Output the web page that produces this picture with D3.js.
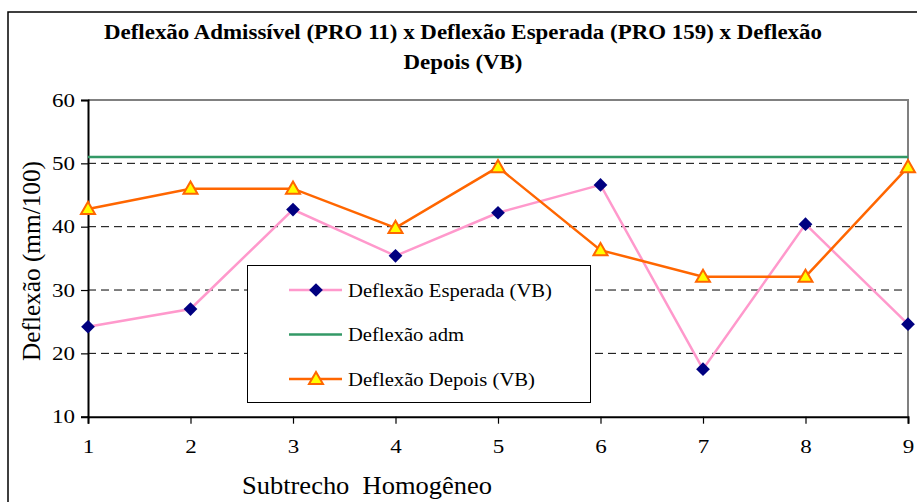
<!DOCTYPE html>
<html>
<head>
<meta charset="utf-8">
<script src="https://cdn.jsdelivr.net/npm/d3@7"></script>
<style>
  html, body { margin: 0; padding: 0; background: #fff; }
  svg { display: block; }
</style>
</head>
<body>
<svg id="chart" width="917" height="502"></svg>
<script>
// Subtrechos homogêneos (eixo X)
const subtrechos = [1, 2, 3, 4, 5, 6, 7, 8, 9];
// Deflexão esperada (VB), mm/100
const deflexaoEsperada = [24.2, 27.0, 42.7, 35.4, 42.2, 46.6, 17.5, 40.4, 24.6];
// Deflexão admissível, mm/100
const deflexaoAdm = [51, 51, 51, 51, 51, 51, 51, 51, 51];
// Deflexão depois (VB), mm/100
const deflexaoDepois = [42.8, 46.0, 46.0, 39.8, 49.4, 36.3, 32.1, 32.1, 49.4];
// Marcas do eixo Y
const yTicks = [10, 20, 30, 40, 50, 60];

const FONT = "Liberation Serif";
const svg = d3.select("#chart");

// Moldura externa do gráfico
svg.append("rect")
  .attr("x", 8).attr("y", 12)
  .attr("width", 930).attr("height", 520)
  .attr("fill", "#fff").attr("stroke", "#000").attr("stroke-width", 1.5);

// Título (duas linhas)
const titleLines = [
  { text: "Deflexão Admissível (PRO 11) x Deflexão Esperada (PRO 159) x Deflexão", y: 38.5, w: 718 },
  { text: "Depois (VB)", y: 68.5, w: 119 }
];
svg.append("g").selectAll("text")
  .data(titleLines)
  .join("text")
  .attr("x", 463).attr("y", d => d.y).attr("text-anchor", "middle")
  .style("font-family", FONT).style("font-weight", "bold").style("font-size", "20.5px")
  .attr("textLength", d => d.w).attr("lengthAdjust", "spacingAndGlyphs")
  .text(d => d.text);

const x = d3.scaleLinear().domain([1, 9]).range([88, 908]);
const y = d3.scaleLinear().domain([10, 60]).range([416.7, 100]);

// Grade tracejada
svg.append("g")
  .selectAll("line")
  .data(yTicks.filter(v => v > 10 && v < 60))
  .join("line")
  .attr("x1", x(1)).attr("x2", x(9))
  .attr("y1", d => y(d)).attr("y2", d => y(d))
  .attr("stroke", "#000").attr("stroke-width", 1)
  .attr("stroke-dasharray", "8,5");

// Borda superior e direita da área de plotagem
svg.append("path")
  .attr("d", `M${x(1)},${y(60)}H${x(9)}V${y(10)}`)
  .attr("fill", "none").attr("stroke", "#808080").attr("stroke-width", 2);

// Eixo Y
const yAxis = d3.axisLeft(y).tickValues(yTicks).tickSize(7).tickPadding(6);
const gy = svg.append("g").attr("transform", `translate(${x(1)},0)`).call(yAxis);
gy.select(".domain").attr("stroke", "#000").attr("stroke-width", 2);
gy.selectAll(".tick line").attr("stroke", "#000").attr("stroke-width", 1.2);
gy.selectAll(".tick text")
  .style("font-family", FONT).style("font-size", "19.5px").attr("fill", "#000")
  .attr("textLength", 23).attr("lengthAdjust", "spacingAndGlyphs");

// Eixo X
const xAxis = d3.axisBottom(x).tickValues(subtrechos).tickFormat(d3.format("d")).tickSize(7).tickPadding(15);
const gx = svg.append("g").attr("transform", `translate(0,${y(10)})`).call(xAxis);
gx.select(".domain").attr("stroke", "#000").attr("stroke-width", 2);
gx.selectAll(".tick line").attr("stroke", "#000").attr("stroke-width", 1.2);
gx.selectAll(".tick text")
  .style("font-family", FONT).style("font-size", "19.5px").attr("fill", "#000")
  .attr("textLength", 11.5).attr("lengthAdjust", "spacingAndGlyphs");

// Títulos dos eixos
svg.append("text")
  .attr("transform", "translate(40,261) rotate(-90)")
  .attr("text-anchor", "middle")
  .style("font-family", FONT).style("font-size", "26px")
  .attr("textLength", 200).attr("lengthAdjust", "spacingAndGlyphs")
  .text("Deflexão (mm/100)");
svg.append("text")
  .attr("x", 367).attr("y", 494).attr("text-anchor", "middle")
  .style("font-family", FONT).style("font-size", "25.5px").style("white-space", "pre")
  .attr("textLength", 250).attr("lengthAdjust", "spacingAndGlyphs")
  .text("Subtrecho  Homogêneo");

const line = d3.line().x((d, i) => x(subtrechos[i])).y(d => y(d));

const diamond = d3.symbol().type(d3.symbolDiamond2).size(120);
const triangle = d3.symbol().type(d3.symbolTriangle).size(85);

// Deflexão admissível
svg.append("path").datum(deflexaoAdm)
  .attr("d", line).attr("fill", "none")
  .attr("stroke", "#339966").attr("stroke-width", 2.5);

// Deflexão esperada
svg.append("path").datum(deflexaoEsperada)
  .attr("d", line).attr("fill", "none")
  .attr("stroke", "#FF99CC").attr("stroke-width", 2.5);

// Deflexão depois
svg.append("path").datum(deflexaoDepois)
  .attr("d", line).attr("fill", "none")
  .attr("stroke", "#FF6600").attr("stroke-width", 2.5);

svg.append("g").selectAll("path")
  .data(deflexaoEsperada)
  .join("path")
  .attr("d", diamond)
  .attr("transform", (d, i) => `translate(${x(subtrechos[i])},${y(d)})`)
  .attr("fill", "#000080");

svg.append("g").selectAll("path")
  .data(deflexaoDepois)
  .join("path")
  .attr("d", triangle)
  .attr("transform", (d, i) => `translate(${x(subtrechos[i])},${y(d) + 1})`)
  .attr("fill", "#FFFF00").attr("stroke", "#FF6600").attr("stroke-width", 2);

// Legenda
const legend = svg.append("g");
legend.append("rect")
  .attr("x", 247.5).attr("y", 265.5).attr("width", 343).attr("height", 137)
  .attr("fill", "#fff").attr("stroke", "#000").attr("stroke-width", 1);

const items = [
  { label: "Deflexão Esperada (VB)", color: "#FF99CC", marker: "diamond", w: 204 },
  { label: "Deflexão adm", color: "#339966", marker: null, w: 116 },
  { label: "Deflexão Depois (VB)", color: "#FF6600", marker: "triangle", w: 187 }
];
items.forEach((it, i) => {
  const cy = 290 + i * 44.5;
  legend.append("line")
    .attr("x1", 289).attr("x2", 342).attr("y1", cy).attr("y2", cy)
    .attr("stroke", it.color).attr("stroke-width", 2.5);
  if (it.marker === "diamond") {
    legend.append("path").attr("d", diamond)
      .attr("transform", `translate(316,${cy})`).attr("fill", "#000080");
  } else if (it.marker === "triangle") {
    legend.append("path").attr("d", triangle)
      .attr("transform", `translate(316,${cy + 1})`)
      .attr("fill", "#FFFF00").attr("stroke", "#FF6600").attr("stroke-width", 2);
  }
  legend.append("text")
    .attr("x", 348).attr("y", cy + 6.5)
    .style("font-family", FONT).style("font-size", "19.5px")
    .attr("textLength", it.w).attr("lengthAdjust", "spacingAndGlyphs")
    .text(it.label);
});
</script>
</body>
</html>
